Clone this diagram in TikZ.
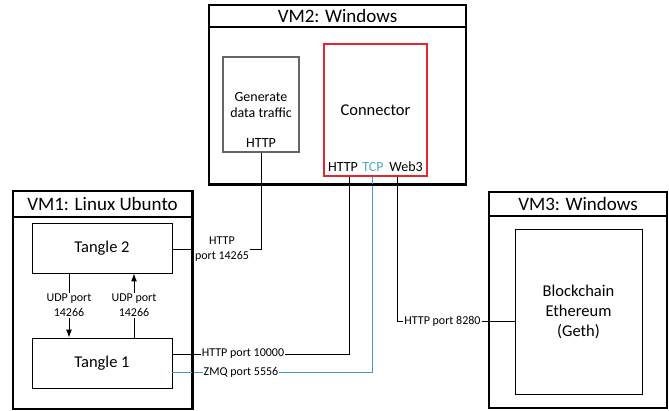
\documentclass[tikz,border=0pt]{standalone}
\usepackage{fontspec}
\setmainfont{Carlito}
\usetikzlibrary{arrows.meta,calc}
\definecolor{conred}{RGB}{228,38,45}
\definecolor{tcpblue}{RGB}{75,172,198}
\definecolor{lineblue}{RGB}{70,150,195}
\begin{document}
\begin{tikzpicture}[x=1pt,y=-1pt,
  vmframe/.style={draw, line width=2pt, inner sep=0pt},
  vmtitle/.style={font=\fontsize{19}{21}\selectfont, inner sep=0pt},
  box/.style={draw, line width=0.9pt, inner sep=0pt, align=center, font=\fontsize{16.5}{20}\selectfont},
  small/.style={font=\fontsize{14}{16.5}\selectfont, inner sep=0pt, align=center},
  lbl/.style={font=\fontsize{12}{15}\selectfont, inner sep=1pt, align=center},
  wire/.style={line width=0.9pt},
  bwire/.style={line width=0.9pt, draw=lineblue},
  arr/.style={wire, -{Latex[length=8pt,width=6pt]}}
]
\useasboundingbox (0,0) rectangle (669,411);

% ---- VM frames ----
\node[vmframe, minimum width=257pt, minimum height=179pt] (vm2) at (337.5,94.5) {};
\draw[line width=2pt] (vm2.west |- 0,27) -- (vm2.east |- 0,27);
\node[vmtitle] (vm2t) at (337.5,16) {VM2: Windows};

\node[vmframe, minimum width=179pt, minimum height=218pt] (vm1) at (102.5,300) {};
\draw[line width=2pt] (vm1.west |- 0,217) -- (vm1.east |- 0,217);
\node[vmtitle] (vm1t) at (102.5,204) {VM1: Linux Ubunto};

\node[vmframe, minimum width=178pt, minimum height=216pt] (vm3) at (578,300) {};
\draw[line width=2pt] (vm3.west |- 0,216) -- (vm3.east |- 0,216);
\node[vmtitle] (vm3t) at (578,204) {VM3: Windows};

% ---- inner boxes ----
\node[box, draw=black!60, line width=1.2pt, minimum width=76pt, minimum height=95pt] (gen) at (261,104.5) {};
\node[small] (gentxt) at (261,105) {Generate\\data traffic};
\node[small] (genhttp) at (261,143) {HTTP};

\node[box, draw=conred, line width=1.3pt, minimum width=103pt, minimum height=132pt] (con) at (375.5,110) {};
\node[box, draw=none] (contxt) at (375.5,110) {Connector};
\node[small] (chttp) at (343,167) {HTTP};
\node[small, text=tcpblue] (ctcp) at (373,167) {TCP};
\node[small] (cweb) at (406,167) {Web3};

\node[box, minimum width=140pt, minimum height=50pt] (t2) at (102,248) {Tangle 2};
\node[box, minimum width=140pt, minimum height=50pt] (t1) at (102,363) {Tangle 1};

\node[box, minimum width=127pt, minimum height=165pt] (bc) at (578.5,311.5) {Blockchain\\Ethereum\\(Geth)};

% ---- labels ----
\node[lbl] (l1) at (222,249) {HTTP\\port 14265};
\node[lbl] (l2) at (243,354) {HTTP port 10000};
\node[lbl] (l3) at (241,372) {ZMQ port 5556};
\node[lbl] (l4) at (442.5,321) {HTTP port 8280};
\node[lbl] (u1) at (69,305.5) {UDP port\\14266};
\node[lbl] (u2) at (134,305.5) {UDP port\\14266};

% ---- coordinates ----
\coordinate (c1) at (261,249);
\coordinate (c2) at (349,354);
\coordinate (c3) at (372,372);
\coordinate (c4) at (397,321);

% ---- connectors ----
\draw[wire] (t2.east |- l1.west) -- (l1.west);
\draw[wire] (l1.east) -- (c1) -- (gen.south);

\draw[wire] (t1.east |- l2.west) -- (l2.west);
\draw[wire] (l2.east) -- (c2) -- (c2 |- con.south);

\draw[bwire] (t1.east |- l3.west) -- (l3.west);
\draw[bwire] (l3.east) -- (c3) -- (c3 |- con.south);

\draw[wire] (c4 |- con.south) -- (c4) -- (l4.west);
\draw[wire] (l4.east) -- (l4.east -| bc.west);

\draw[wire] (u1.north |- t2.south) -- (u1.north);
\draw[arr] (u1.south) -- (u1.south |- t1.north);
\draw[wire] (u2.south |- t1.north) -- (u2.south);
\draw[arr] (u2.north) -- (u2.north |- t2.south);

% redraw frames on top of the wires
\draw[line width=2pt] (vm2.south west) -- (vm2.south east);
\draw[line width=2pt] (vm1.north east) -- (vm1.south east);
\end{tikzpicture}
\end{document}
